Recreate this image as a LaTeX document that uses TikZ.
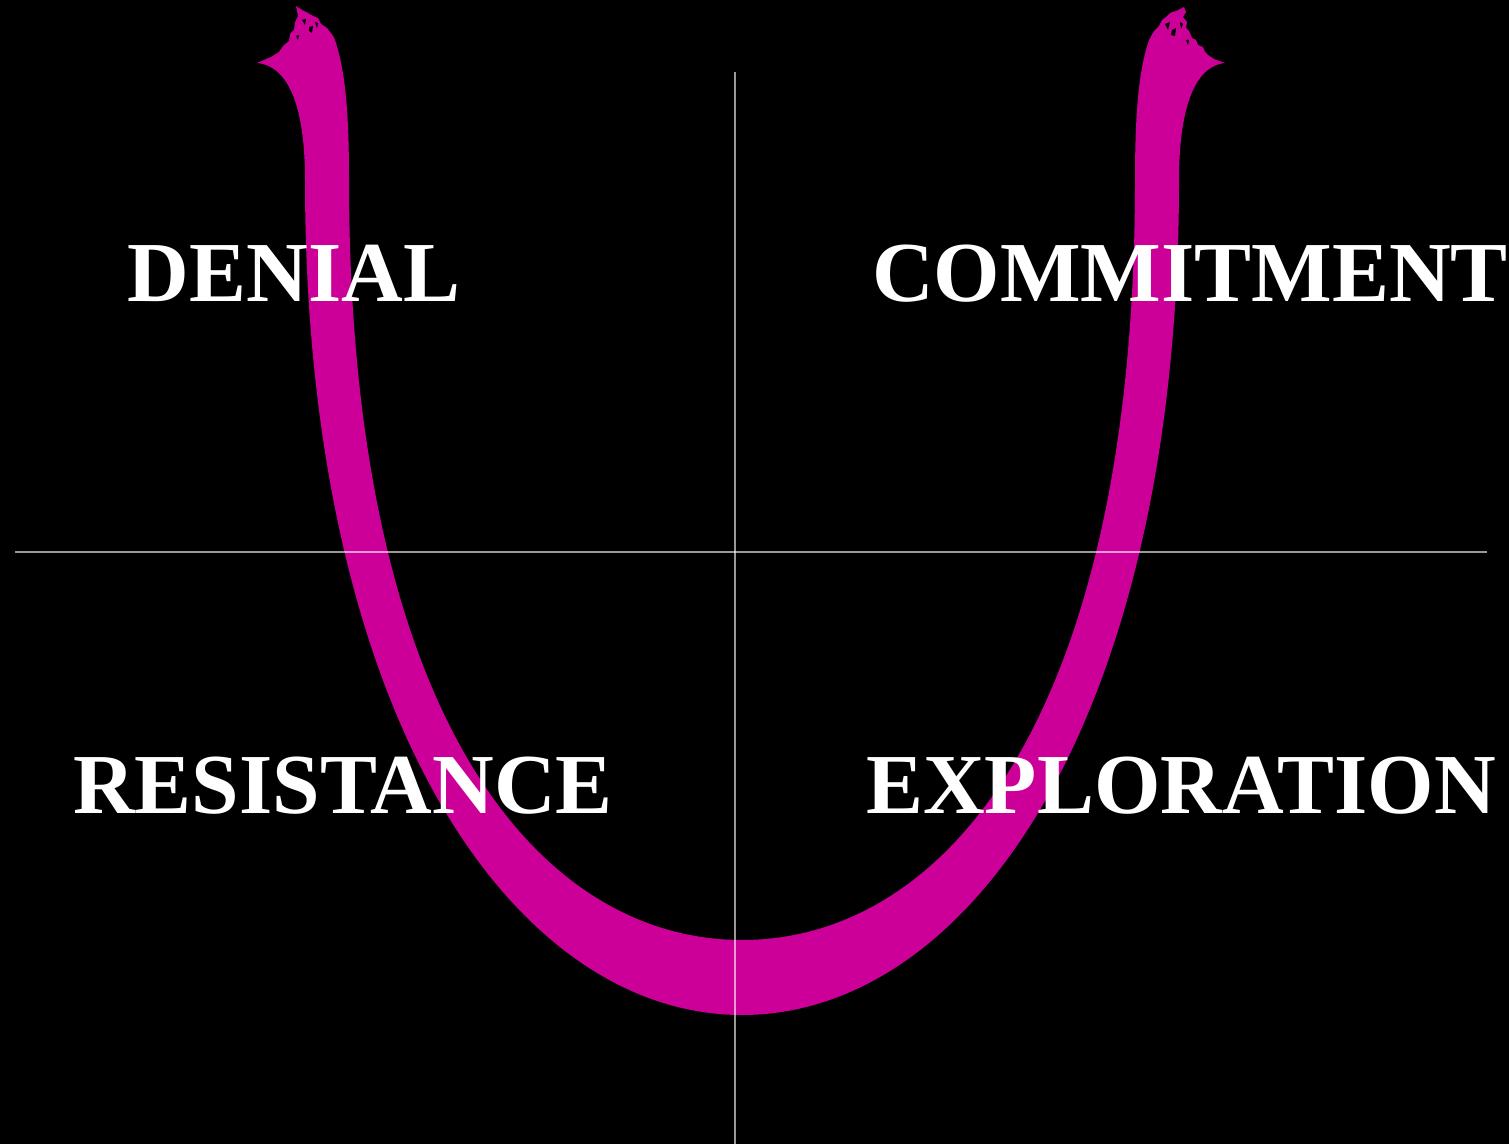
\documentclass[tikz,border=0pt]{standalone}
\usepackage{fontspec}
\setmainfont{Liberation Serif}
\definecolor{mag}{RGB}{204,0,153}
\begin{document}
\begin{tikzpicture}[x=0.5pt,y=-0.5pt,
  label/.style={text=white,font=\fontsize{42.7}{50}\selectfont\bfseries,inner sep=0pt,anchor=base},
  axis/.style={draw=white,draw opacity=0.6,line width=1pt},
  speck/.style={fill=black}]
\useasboundingbox (0,0) rectangle (1509,1144);
\fill[black] (0,0) rectangle (1509,1144);

% magenta U
\fill[mag]
  (257,63) .. controls (290,66) and (305,110) .. (305,180)
  .. controls (305,720) and (515,1015) .. (742,1015)
  .. controls (969,1015) and (1179,720) .. (1179,180)
  .. controls (1179,110) and (1194,66) .. (1225,63)
  -- (1214,59) -- (1208,55) -- (1205,52) -- (1203,47) -- (1198,45) -- (1196,40) -- (1192,38) -- (1189,31) -- (1186,28) -- (1187,22) -- (1183,17) -- (1186,12) -- (1184,7) -- (1176,11) -- (1170,13) -- (1166,17) -- (1162,20) -- (1159,26) -- (1154,31) -- (1149,40)
  .. controls (1139,70) and (1135,110) .. (1135,180)
  .. controls (1135,720) and (944,940) .. (742,940)
  .. controls (540,940) and (349,720) .. (349,180)
  .. controls (349,110) and (345,70) .. (335,40)
  -- (333,36) -- (327,28) -- (321,24) -- (318,18) -- (313,16) -- (308,13) -- (302,10) -- (296,6) -- (298,16) -- (295,22) -- (294,30) -- (290,34) -- (289,41) -- (283,46) -- (279,52) -- (271,57) -- cycle;

% specks in the tips
\fill[speck] (302,20) -- (306,19) -- (305,25) -- cycle;
\fill[speck] (309,27) -- (313,26) -- (312,33) -- (309,31) -- cycle;
\fill[speck] (315,22) -- (318,23) -- (317,28) -- cycle;
\fill[speck] (296,36) -- (299,35) -- (298,40) -- cycle;
\fill[speck] (1165,24) -- (1170,22) -- (1168,30) -- cycle;
\fill[speck] (1172,30) -- (1176,28) -- (1175,36) -- (1171,35) -- cycle;
\fill[speck] (1180,22) -- (1183,24) -- (1181,29) -- cycle;
\fill[speck] (1186,40) -- (1189,40) -- (1188,45) -- cycle;

% axes
\coordinate (vt) at (735,72);
\coordinate (vb) at (735,1144);
\coordinate (hl) at (15,552);
\coordinate (hr) at (1487,552);
\draw[axis] (vt) -- (vb);
\draw[axis] (hl) -- (hr);

% labels
\node[label] (denial) at (294,302) {DENIAL};
\node[label] (commit) at (1190,302) {COMMITMENT};
\node[label] (resist) at (343,813) {RESISTANCE};
\node[label] (explore) at (1181,813) {EXPLORATION};
\end{tikzpicture}
\end{document}
